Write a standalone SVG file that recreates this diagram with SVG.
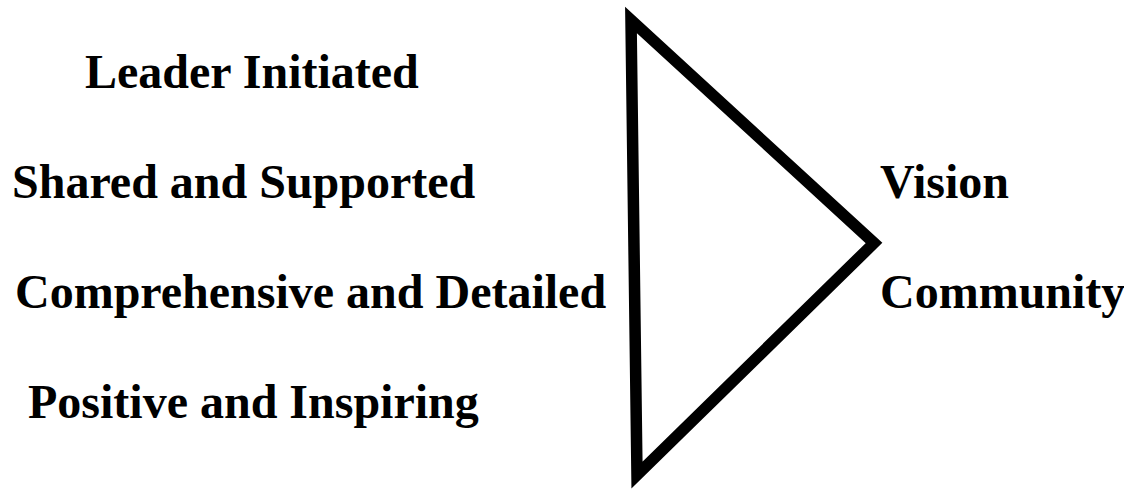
<svg xmlns="http://www.w3.org/2000/svg" width="1124" height="489" viewBox="0 0 1124 489">
<style>
.t{font-family:"Liberation Serif","Times New Roman",serif;font-weight:bold;font-size:48px;fill:#000}
</style>
<rect width="1124" height="489" fill="#fff"/>
<g id="triangle">
<polygon points="631,20 874,243 637,475" fill="#fff" stroke="#000" stroke-width="11.5" stroke-linejoin="miter"/>
</g>
<g id="left-labels">
<text class="t" x="85" y="88">Leader Initiated</text>
<text class="t" x="12" y="198">Shared and Supported</text>
<text class="t" x="15" y="308">Comprehensive and Detailed</text>
<text class="t" x="28" y="418">Positive and Inspiring</text>
</g>
<g id="right-labels">
<text class="t" x="880" y="198">Vision</text>
<text class="t" x="880" y="308">Community</text>
</g>
<g id="connectors"/>
</svg>
